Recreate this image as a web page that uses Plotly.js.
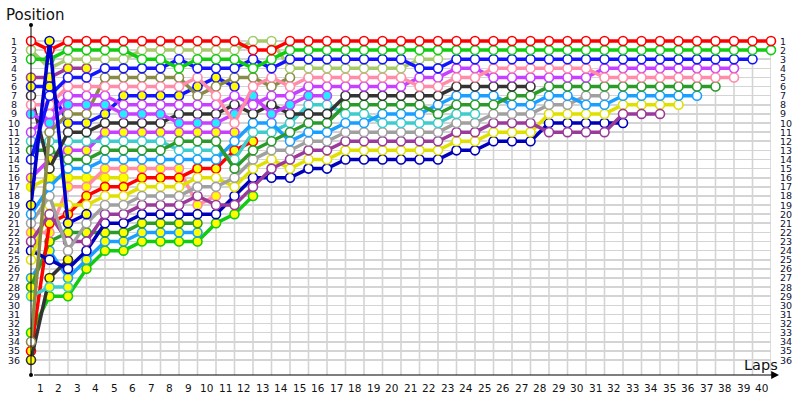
<!DOCTYPE html>
<html><head><meta charset="utf-8">
<script src="https://cdn.plot.ly/plotly-3.0.1.min.js"></script>
<style>html,body{margin:0;padding:0;background:#fff}#chart{width:800px;height:400px}</style>
</head><body><div id="chart"></div>
<script>
// Tick labels
const lapLabels = [1,2,3,4,5,6,7,8,9,10,11,12,13,14,15,16,17,18,19,20,21,22,23,24,25,26,27,28,29,30,31,32,33,34,35,36,37,38,39,40];
const positionLabels = [1,2,3,4,5,6,7,8,9,10,11,12,13,14,15,16,17,18,19,20,21,22,23,24,25,26,27,28,29,30,31,32,33,34,35,36];

// Position per lap (index 0 = grid, then lap 1, 2, ...)
const posRed = [1,2,1,1,1,1,1,1,1,1,1,1,2,2,1,1,1,1,1,1,1,1,1,1,1,1,1,1,1,1,1,1,1,1,1,1,1,1,1,1,1];
const posGreen = [3,3,2,2,2,2,3,3,4,3,3,3,4,3,2,2,2,2,2,2,2,2,2,2,2,2,2,2,2,2,2,2,2,2,2,2,2,2,2,2,2];
const posBlue = [14,7,5,5,4,4,4,4,3,4,4,4,3,4,3,3,3,3,3,3,3,4,4,3,3,3,3,3,3,3,3,3,3,3,3,3,3,3,3,3];
const posLightOlive = [2,4,3,3,3,3,2,2,2,2,2,2,1,1,4,4,4,4,4,4,4,3,3];
const posPink = [8,8,6,6,6,6,6,6,6,5,7,10,6,5,6,5,5,5,5,5,5,6,6,5,5,4,4,4,4,4,4,5,5,5,5,5,5,5,5];
const posViolet = [11,9,7,7,7,8,8,8,8,8,8,7,8,7,7,6,6,6,6,6,6,5,5,4,4,5,5,5,5,5,5,4,4,4,4,4,4,4,4];
const posDarkGray = [7,15,11,11,10,10,10,10,9,9,9,8,9,8,9,9,9,7,7,7,7,7,7,6,6,6,6,6];
const posDarkGreen = [13,13,14,14,13,13,13,13,12,12,12,15,13,12,11,10,10,8,8,8,8,8,9,8,8,8,7,7,6,6,6,6,6,6,6,6,6,6];
const posLightBlue = [20,17,15,15,14,14,14,14,14,14,14,12,10,10,12,11,11,10,10,9,9,9,8,7,7,7,8,8,7,7,8,8,7,7,7,7,7];
const posTeal = [12,12,12,12,12,12,12,12,13,13,13,14,11,11,10,8,8,9,9,10,10,10,10,9,9];
const posGray = [21,18,24,21,19,19,18,18,18,17,17,16,14,13,13,12,12,11,11,11,11,11,11,10,10,9,9,9,8,8,7,7];
const posPurple = [23,20,23,23,20,20,19,19,19,18,19,19,17,15,14,13,13,12,12,12,12,12,12,11,11,10,10,10,11,11,11,11,9,9,9];
const posYellow = [25,19,19,19,18,18,17,17,17,16,16,17,15,14,15,14,14,13,13,13,13,13,13,12,12,11,11,11,9,9,9,9,8,8,8,8];
const posNavy = [24,25,26,24,21,21,20,20,20,20,20,18,16,16,16,15,15,14,14,14,14,14,14,13,13,12,12,12,10,10,10,10,10];
const posOlive = [34,11,9,9,5,5,5,5,5,7,6,5,5,6,5];
const posVioletCyan = [9,10,8,8,8,9,9,9,10,10,10,9,7,9,8,7,7];
const posBlueY = [6,6,10,10,9,7,7,7,7,6,5,6];
const posRedY = [35,21,20,18,17,17,16,16,16,15,15,13,12];
const posPurpleY = [5,5,4,4];
const posVioletY = [16,14,13,13,11,11,11,11,11,11,11,11];
const posPinkY = [22,22,17,17,15,15,15,15,15,19,18];
const posYellowY = [17,16,16,16,16,16];
const posDarkGreenY = [28,23,22,22,22,22,21,21,21,21];
const posLightBlueY = [27,24,27,25,23,23,22,22,22,22];
const posGreenY = [33,29,29,26,24,24,23,23,23,23,21,20,18];
const posDarkGrayY = [36,27,25];
const posTealY = [29,28,28];
const posNavyY = [19,1,21,20];

const W = '#ffffff', Yf = '#ffff00', Cf = '#22eeff';
const drivers = [
  [posGreenY, '#11cc11', Yf], [posLightBlueY, '#1a9fff', Yf], [posDarkGreenY, '#2a9a2a', Yf],
  [posYellowY, '#e0e000', Yf], [posPinkY, '#ff8ca8', Yf], [posVioletY, '#c840ff', Yf],
  [posPurpleY, '#9a3a9a', Yf], [posRedY, '#ff0000', Yf], [posBlueY, '#1414ff', Yf],
  [posDarkGrayY, '#333333', Yf], [posTealY, '#3ecccc', Yf],
  [posNavy, '#0000bb', W], [posYellow, '#e0e000', W], [posPurple, '#9a3a9a', W],
  [posGray, '#a0a0a0', W], [posTeal, '#3ecccc', W], [posLightBlue, '#1a9fff', W],
  [posDarkGreen, '#2a9a2a', W], [posDarkGray, '#333333', W], [posOlive, '#8a8a48', W],
  [posVioletCyan, '#c840ff', Cf], [posViolet, '#c840ff', W], [posPink, '#ff8ca8', W],
  [posLightOlive, '#a5c96b', W], [posBlue, '#1414ff', W], [posGreen, '#11cc11', W],
  [posRed, '#ff0000', W], [posNavyY, '#0000cc', Yf]
];

const traces = drivers.map(([ys, col, fill]) => ({
  type: 'scatter', mode: 'lines+markers',
  x: ys.map((_, i) => i), y: ys,
  line: {color: col, width: 3.5},
  marker: {size: 9, color: fill, line: {color: col, width: 1.6}},
  cliponaxis: false, hoverinfo: 'skip', showlegend: false
}));

const FONT = 'DejaVu Sans, Verdana, sans-serif';
const L = 31, R = 771, T = 25, B = 375;
const px = v => (v - L) / (R - L);
const py = v => (B - v) / (B - T);
const yTop = 1 - 16 / 9.114, yBot = 36 + 15 / 9.114;

const shapes = [];
lapLabels.forEach(k => shapes.push({type: 'line', xref: 'x', yref: 'y', x0: k, x1: k, y0: 1, y1: yBot,
  line: {color: '#d4d4d4', width: 1.6}, layer: 'below'}));
shapes.push({type: 'line', xref: 'paper', yref: 'paper', x0: 0, x1: 0, y0: 0, y1: 1, line: {color: '#000', width: 1}});
[[0, 1], [0, 0]].forEach(([ax, ay]) => shapes.push({type: 'circle', xref: 'paper', yref: 'paper',
  xsizemode: 'pixel', ysizemode: 'pixel', xanchor: ax, yanchor: ay, x0: -2, x1: 2, y0: -2, y1: 2,
  fillcolor: '#000', line: {color: '#000', width: 0}}));

const annotations = [];
positionLabels.forEach(p => {
  annotations.push({xref: 'paper', yref: 'y', x: px(14), y: p, text: String(p), showarrow: false,
    xanchor: 'center', yanchor: 'middle', font: {family: FONT, size: 9.5, color: '#111133'}});
  annotations.push({xref: 'paper', yref: 'y', x: px(778), y: p, text: String(p), showarrow: false,
    xanchor: 'left', yanchor: 'middle', font: {family: FONT, size: 9.5, color: '#111133'}});
});
lapLabels.forEach(k => annotations.push({xref: 'x', yref: 'paper', x: k - 0.5, y: py(388), text: String(k),
  showarrow: false, xanchor: 'center', yanchor: 'middle', font: {family: FONT, size: 10.5, color: '#111'}}));
annotations.push({xref: 'paper', yref: 'paper', x: px(779), y: 0, ax: -(779 - L), ay: 0, text: ' ',
  showarrow: true, arrowhead: 2, arrowsize: 1.3, arrowwidth: 1.2, arrowcolor: '#000', standoff: 0, startstandoff: 0});
annotations.push({xref: 'paper', yref: 'paper', x: px(742), y: py(365), text: 'Laps', showarrow: false,
  xanchor: 'left', yanchor: 'middle', font: {family: FONT, size: 14.5, color: '#111'}});
annotations.push({xref: 'paper', yref: 'paper', x: px(4), y: py(15), text: 'Position', showarrow: false,
  xanchor: 'left', yanchor: 'middle', font: {family: FONT, size: 15, color: '#111'}});

const layout = {
  width: 800, height: 400,
  margin: {l: L, r: 800 - R, t: T, b: 400 - B, pad: 0},
  paper_bgcolor: '#fff', plot_bgcolor: '#fff',
  xaxis: {range: [0, 40], showgrid: false, zeroline: false, showline: false, showticklabels: false, ticks: '', fixedrange: true},
  yaxis: {range: [yBot, yTop], tickvals: positionLabels, showticklabels: false, ticks: '',
    showgrid: true, gridcolor: '#d4d4d4', gridwidth: 1.6, zeroline: false, showline: false, fixedrange: true},
  shapes: shapes, annotations: annotations, showlegend: false
};
Plotly.newPlot('chart', traces, layout, {staticPlot: true, displayModeBar: false});
</script>
</body></html>
